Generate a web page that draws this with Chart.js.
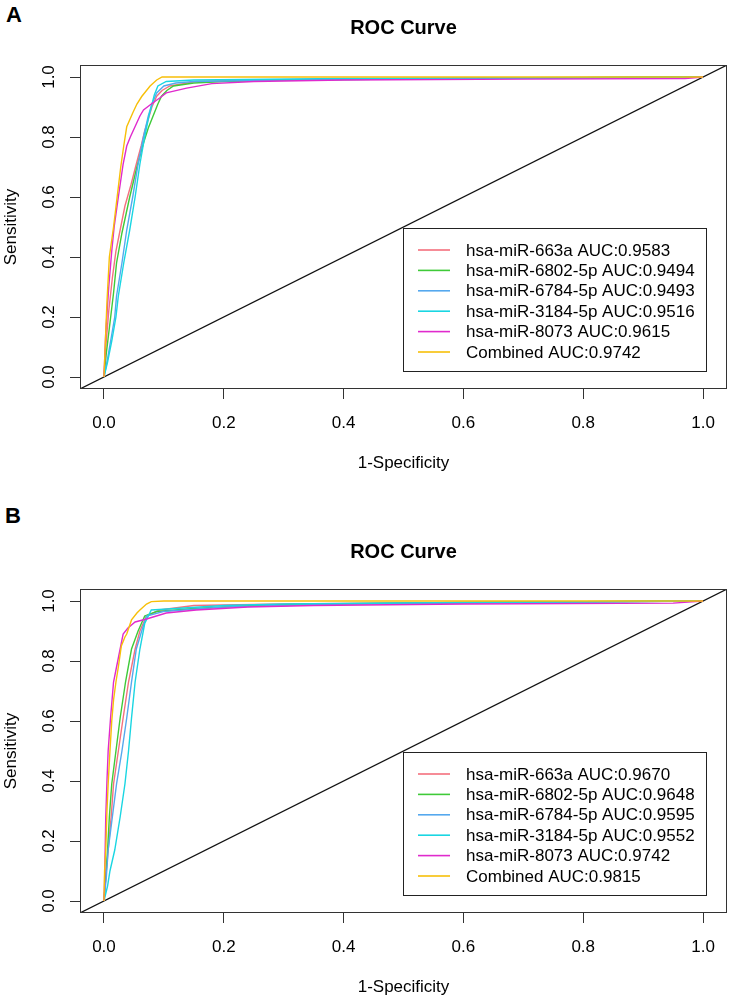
<!DOCTYPE html>
<html><head><meta charset="utf-8">
<script src="https://cdn.jsdelivr.net/npm/chart.js@4.4.1/dist/chart.umd.min.js"></script>
<style>
html,body{margin:0;padding:0;background:#fff;width:729px;height:997px;overflow:hidden;position:relative;font-family:"Liberation Sans",Arial,sans-serif;}
.panel{position:absolute;left:0;width:729px;height:473px;}
#wrapA{top:0}
#wrapB{top:524px}
.letter{position:absolute;font-weight:bold;font-size:22px;line-height:1;color:#000;}
</style></head><body>
<div class="letter" style="left:6px;top:4px">A</div>
<div class="letter" style="left:5px;top:505px">B</div>
<div class="panel" id="wrapA"><canvas id="cA" width="729" height="473"></canvas></div>
<div class="panel" id="wrapB"><canvas id="cB" width="729" height="473"></canvas></div>
<script>
// ---------- shared labels / ticks ----------
const chartTitle = 'ROC Curve';
const xAxisTitle = '1-Specificity';
const yAxisTitle = 'Sensitivity';
const seriesNames = ['hsa-miR-663a','hsa-miR-6802-5p','hsa-miR-6784-5p','hsa-miR-3184-5p','hsa-miR-8073','Combined'];
const seriesColors = ['#F4707E','#3FCA38','#55A8EE','#19D6E2','#E02ACD','#F7BF08'];
const aucA = ['0.9583','0.9494','0.9493','0.9516','0.9615','0.9742'];
const aucB = ['0.9670','0.9648','0.9595','0.9552','0.9742','0.9815'];
const tickValues = [0,0.2,0.4,0.6,0.8,1.0];
const tickLabels = ['0.0','0.2','0.4','0.6','0.8','1.0'];
const axisMin = -0.04, axisMax = 1.04;
const diagX = [-0.04, 1.04], diagY = [-0.04, 1.04];

// ---------- Panel A (1-specificity, sensitivity) ----------
const a663aX = [0,0.003,0.008,0.014,0.02,0.027,0.035,0.045,0.054,0.062,0.068,0.074,0.08,0.088,0.097,0.11,0.154,0.25,0.5,1];
const a663aY = [0,0.1,0.22,0.33,0.42,0.49,0.57,0.64,0.71,0.77,0.82,0.86,0.9,0.936,0.955,0.97,0.985,0.99,0.995,1];
const a6802X = [0,0.004,0.01,0.016,0.021,0.03,0.043,0.055,0.066,0.074,0.082,0.09,0.096,0.105,0.116,0.15,0.2,0.3,0.6,1];
const a6802Y = [0,0.08,0.18,0.28,0.38,0.48,0.6,0.7,0.78,0.83,0.87,0.91,0.936,0.955,0.97,0.98,0.985,0.99,0.995,1];
const a6784X = [0,0.005,0.012,0.018,0.021,0.03,0.038,0.048,0.057,0.066,0.074,0.08,0.088,0.1,0.12,0.15,0.3,0.6,1];
const a6784Y = [0,0.05,0.13,0.2,0.27,0.38,0.49,0.6,0.71,0.8,0.87,0.91,0.947,0.97,0.98,0.985,0.99,0.995,1];
const a3184X = [0,0.006,0.013,0.02,0.024,0.033,0.043,0.052,0.06,0.068,0.075,0.079,0.084,0.09,0.104,0.15,0.4,1];
const a3184Y = [0,0.05,0.12,0.2,0.27,0.38,0.49,0.6,0.71,0.8,0.87,0.9,0.94,0.97,0.985,0.99,0.995,1];
const a8073X = [0,0.003,0.008,0.013,0.017,0.024,0.032,0.038,0.044,0.052,0.06,0.066,0.079,0.093,0.104,0.138,0.18,0.25,0.4,0.7,0.97,1];
const a8073Y = [0,0.15,0.3,0.42,0.5,0.6,0.71,0.77,0.8,0.835,0.87,0.89,0.91,0.93,0.947,0.963,0.978,0.985,0.99,0.993,0.995,1];
const aCombX = [0,0.002,0.005,0.009,0.016,0.022,0.028,0.033,0.038,0.048,0.055,0.063,0.077,0.088,0.097,1];
const aCombY = [0,0.1,0.25,0.4,0.5,0.6,0.7,0.77,0.834,0.88,0.91,0.935,0.97,0.99,1,1];

// ---------- Panel B ----------
const b663aX = [0,0.003,0.007,0.012,0.016,0.024,0.032,0.041,0.052,0.06,0.071,0.093,0.15,0.3,0.6,1];
const b663aY = [0,0.08,0.17,0.28,0.39,0.5,0.61,0.73,0.84,0.9,0.95,0.97,0.985,0.99,0.995,1];
const b6802X = [0,0.003,0.006,0.009,0.013,0.02,0.027,0.036,0.046,0.057,0.068,0.088,0.15,0.25,0.35,0.6,1];
const b6802Y = [0,0.08,0.17,0.28,0.39,0.5,0.61,0.73,0.84,0.9,0.95,0.965,0.975,0.985,0.99,0.995,1];
const b6784X = [0,0.004,0.007,0.014,0.021,0.03,0.038,0.046,0.054,0.063,0.071,0.099,0.2,0.4,0.7,1];
const b6784Y = [0,0.08,0.17,0.28,0.39,0.5,0.61,0.73,0.84,0.9,0.95,0.965,0.98,0.99,0.995,1];
const b3184X = [0,0.006,0.01,0.018,0.027,0.035,0.041,0.046,0.052,0.06,0.068,0.079,0.12,0.2,0.3,0.6,1];
const b3184Y = [0,0.05,0.1,0.17,0.28,0.39,0.5,0.61,0.73,0.84,0.925,0.97,0.975,0.985,0.99,0.995,1];
const b8073X = [0,0.001,0.003,0.005,0.007,0.011,0.016,0.02,0.024,0.028,0.032,0.04,0.052,0.071,0.104,0.154,0.24,0.35,0.6,0.95,1];
const b8073Y = [0,0.06,0.28,0.4,0.5,0.61,0.73,0.77,0.81,0.85,0.89,0.91,0.93,0.94,0.96,0.97,0.98,0.985,0.99,0.993,1];
const bCombX = [0,0.001,0.003,0.005,0.007,0.01,0.013,0.016,0.02,0.024,0.029,0.035,0.038,0.046,0.055,0.06,0.071,0.079,0.1,1];
const bCombY = [0,0.1,0.17,0.3,0.39,0.5,0.6,0.67,0.73,0.78,0.85,0.88,0.89,0.937,0.96,0.97,0.99,0.998,1,1];

const curvesA = [[a663aX,a663aY],[a6802X,a6802Y],[a6784X,a6784Y],[a3184X,a3184Y],[a8073X,a8073Y],[aCombX,aCombY]];
const curvesB = [[b663aX,b663aY],[b6802X,b6802Y],[b6784X,b6784Y],[b3184X,b3184Y],[b8073X,b8073Y],[bCombX,bCombY]];

const FONT = '"Liberation Sans", Arial, sans-serif';
function pts(xs, ys){ return xs.map((x,i)=>({x:x, y:ys[i]})); }

const decor = {
  id:'rocDecor',
  afterDraw(chart){
    const ctx = chart.ctx, ca = chart.chartArea;
    const xs = chart.scales.x, ys = chart.scales.y;
    ctx.save();
    // frame
    ctx.strokeStyle = '#333'; ctx.lineWidth = 1;
    ctx.strokeRect(Math.round(ca.left)+0.5, Math.round(ca.top)+0.5, Math.round(ca.right-ca.left)-1, Math.round(ca.bottom-ca.top)-1);
    ctx.fillStyle = '#000';
    // x tick labels
    ctx.font = '17px ' + FONT; ctx.textAlign = 'center'; ctx.textBaseline = 'alphabetic';
    tickValues.forEach((v,i)=>{ ctx.fillText(tickLabels[i], xs.getPixelForValue(v), ca.bottom + 39); });
    // y tick labels rotated
    tickValues.forEach((v,i)=>{
      ctx.save(); ctx.translate(53.5, ys.getPixelForValue(v)); ctx.rotate(-Math.PI/2);
      ctx.fillText(tickLabels[i], 0, 0); ctx.restore();
    });
    // axis titles
    ctx.fillText(xAxisTitle, (ca.left+ca.right)/2, ca.bottom + 79);
    ctx.save(); ctx.translate(16, (ca.top+ca.bottom)/2); ctx.rotate(-Math.PI/2);
    ctx.fillText(yAxisTitle, 0, 0); ctx.restore();
    // main title
    ctx.font = 'bold 20px ' + FONT;
    ctx.fillText(chartTitle, (ca.left+ca.right)/2, 34);
    // legend (bottom right, white filled box)
    const lw = 303, lh = 143;
    const lr = ca.right - 21, lb = ca.bottom - 18;
    const ll = lr - lw, lt = lb - lh;
    ctx.fillStyle = '#fff'; ctx.fillRect(ll, lt, lw, lh);
    ctx.strokeStyle = '#222'; ctx.lineWidth = 1;
    ctx.strokeRect(Math.round(ll)+0.5, Math.round(lt)+0.5, lw, lh);
    ctx.font = '17px ' + FONT; ctx.textAlign = 'left'; ctx.textBaseline = 'middle';
    const lines = chart.data.datasets.filter(d=>d.isSeries);
    lines.forEach((d,i)=>{
      const yy = lt + 22 + i*20.4;
      ctx.strokeStyle = d.borderColor; ctx.lineWidth = 1.6;
      ctx.beginPath(); ctx.moveTo(ll+15, yy); ctx.lineTo(ll+47, yy); ctx.stroke();
      ctx.fillStyle = '#000'; ctx.fillText(d.label, ll+63, yy+1);
    });
    ctx.restore();
  }
};

function buildChart(id, curves, aucs){
  const datasets = curves.map((c,i)=>({
    label: seriesNames[i] + ' AUC:' + aucs[i],
    isSeries: true,
    data: pts(c[0], c[1]),
    borderColor: seriesColors[i], backgroundColor: seriesColors[i],
    borderWidth: 1.4, pointRadius: 0, showLine: true, fill: false, tension: 0,
    order: 10 - i
  }));
  datasets.push({label:'reference', isSeries:false, data: pts(diagX, diagY), borderColor:'#111', borderWidth:1.2,
    pointRadius:0, showLine:true, fill:false, order: 20});
  const axisCommon = {
    type:'linear', min:axisMin, max:axisMax,
    afterBuildTicks: s=>{ s.ticks = tickValues.map(v=>({value:v})); },
    ticks:{display:false},
    grid:{drawOnChartArea:false, drawTicks:true, tickLength:10, color:'#333', lineWidth:1},
    border:{display:false}
  };
  return new Chart(document.getElementById(id), {
    type:'scatter',
    data:{datasets},
    options:{
      responsive:false, animation:false, devicePixelRatio:1,
      layout:{padding:{top:65, right:2, left:0, bottom:0}},
      plugins:{legend:{display:false}, title:{display:false}, tooltip:{enabled:false}},
      scales:{
        x: Object.assign({}, axisCommon, {position:'bottom', afterFit: s=>{ s.height = 84; }}),
        y: Object.assign({}, axisCommon, {position:'left', afterFit: s=>{ s.width = 80; }})
      }
    },
    plugins:[decor]
  });
}
buildChart('cA', curvesA, aucA);
buildChart('cB', curvesB, aucB);
</script>
</body></html>
